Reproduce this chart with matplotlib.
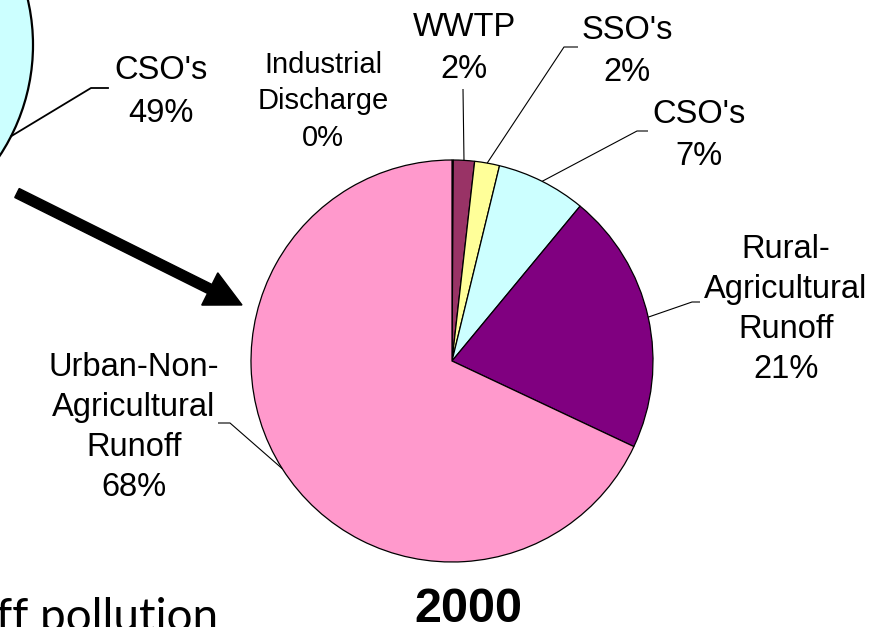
import numpy as np
import matplotlib.pyplot as plt
from matplotlib.patches import Circle, FancyArrow

# 2000 pie, slices clockwise from 12 o'clock
sources = ['Industrial\nDischarge', 'WWTP', "SSO's", "CSO's",
           'Rural-\nAgricultural\nRunoff', 'Urban-Non-\nAgricultural\nRunoff']
shares = [0.1, 1.7, 2.0, 7.2, 21.0, 68.0]
pct_labels = ['0%', '2%', '2%', '7%', '21%', '68%']
colors = ['#9999FF', '#993366', '#FFFF99', '#CCFFFF', '#800080', '#FF99CC']

# earlier pie on the left, only its CSO slice is in view
old_source = "CSO's"
old_pct = '49%'

year = '2000'
footer = 'ff pollution'

W, H = 871, 627
fig = plt.figure(figsize=(W / 100, H / 100), dpi=100)
ax = fig.add_axes([0, 0, 1, 1])

# pie centre / radius in picture pixels (y measured from top)
cx, cy, R = 452, H - 361, 201

wedges, _ = ax.pie(shares, colors=colors, startangle=90, counterclock=False,
                   center=(cx, cy), radius=R,
                   wedgeprops=dict(edgecolor='black', linewidth=0.9))

# label placement: (centre x, cap top y, kink, end) in pixels from top-left
layout = [
    (323, 51, None, None),
    (464, 12, (463, 89), None),
    (627, 15, (564, 47), (578, 47)),
    (699, 99, (637, 131), (648, 131)),
    (786, 234, (692, 302), (700, 302)),
    (134, 352, (230, 423), (218, 423)),
]

fs = 23.5
for w, name, pct, (tx, ty, kink, end) in zip(wedges, sources, pct_labels, layout):
    if name.startswith('Industrial'):
        size, ls = 21, 1.38
    elif name.count('\n') == 2:
        size, ls = fs, 1.38
    else:
        size, ls = fs, 1.45
    ax.text(tx, H - ty, name + '\n' + pct, ha='center', va='top',
            fontsize=size, family='Liberation Sans', linespacing=ls)
    if kink is None:
        continue
    ang = np.deg2rad((w.theta1 + w.theta2) / 2)
    xs = [cx + R * np.cos(ang), kink[0]]
    ys = [cy + R * np.sin(ang), H - kink[1]]
    if end is not None:
        xs.append(end[0])
        ys.append(H - end[1])
    ax.plot(xs, ys, color='black', lw=0.8, solid_capstyle='butt')

# left pie (cut off by the slide edge)
ocx, ocy = -168, H - 45
ax.add_patch(Circle((ocx, ocy), R, facecolor='#CCFFFF', edgecolor='black', lw=1.6))
a = np.deg2rad(-27)
ax.plot([ocx + R * np.cos(a), 91, 108], [ocy + R * np.sin(a), H - 88, H - 88],
        color='black', lw=1.3)
ax.text(161, H - 55, old_source + '\n' + old_pct, ha='center', va='top',
        fontsize=fs, family='Liberation Sans', linespacing=1.5)

# big arrow from old pie to new pie
ax.add_patch(FancyArrow(17, H - 193, 225, -112, width=10, head_width=36,
                        head_length=36, length_includes_head=True,
                        color='black'))

ax.text(468, H - 622, year, ha='center', va='baseline', fontsize=35,
        fontweight='bold', family='Liberation Sans')
ax.text(-4, H - 631, footer, ha='left', va='baseline', fontsize=33,
        family='Lato')

ax.set_xlim(0, W)
ax.set_ylim(0, H)
ax.axis('off')

fig.savefig('out.png', dpi=100)
